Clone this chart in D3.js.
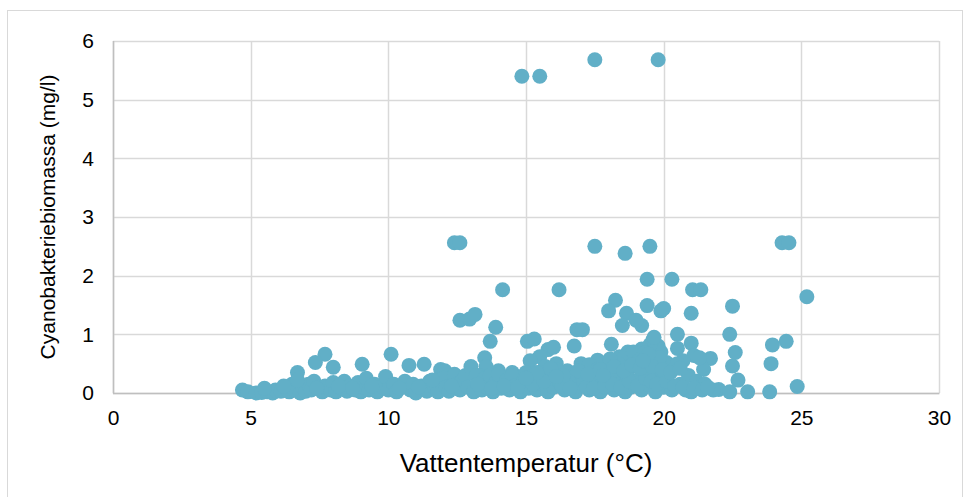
<!DOCTYPE html>
<html>
<head>
<meta charset="utf-8">
<script src="https://cdn.jsdelivr.net/npm/d3@7"></script>
<style>
  body { margin: 0; background: #fff; }
  svg { display: block; font-family: "Liberation Sans", Arial, sans-serif; }
</style>
</head>
<body>
<svg id="chart" width="971" height="497"></svg>
<script>
// Water temperature (°C)
const temperature = [
  // outliers / upper points
  14.85, 15.5, 17.5, 19.8,
  12.4, 12.6, 17.5, 18.6, 19.5, 24.3, 24.55,
  14.15, 16.2, 19.4, 20.3, 21.05, 21.35, 25.2,
  22.5, 18.25, 18.0, 18.65, 19.4, 19.9, 20.0, 21.0,
  12.6, 12.95, 13.15, 13.9, 18.5, 19.2, 19.0,
  16.85, 17.05, 20.5, 22.4, 15.05, 15.3, 15.8, 16.0,
  13.7, 16.75, 18.1, 17.0, 21.0, 22.6, 21.7, 22.5, 22.7, 23.9, 23.95, 24.45, 24.85, 23.85, 23.05, 22.0,
  20.5, 19.6, 19.7, 19.0, 17.6, 20.1, 21.1, 21.45, 19.35, 19.8, 19.9, 19.5, 19.2, 18.9, 18.8, 19.65,
  // lower band 0.3 - 0.7
  7.7, 7.35, 6.7, 8.0, 9.05, 10.1, 10.75, 11.3, 11.9, 13.5, 13.55, 12.05, 12.4,
  14.5, 14.0, 13.3, 15.5, 15.15, 15.7, 16.1, 16.5, 17.3, 17.9, 18.3, 18.4, 18.7, 20.7, 21.3,
  // dense band near zero
  4.7, 4.9, 5.2, 5.4, 5.6, 5.8, 5.9, 6.1, 6.3, 6.4, 6.5, 6.6, 6.8, 6.9, 7.0, 7.1, 7.2, 7.3, 7.5, 7.6,
  7.7, 7.9, 8.0, 8.1, 8.3, 8.4, 8.5, 8.6, 8.8, 8.9, 9.0, 9.1, 9.2, 9.3, 9.5, 9.6, 9.8, 9.9, 10.0, 10.2,
  10.3, 10.5, 10.6, 10.8, 10.9, 11.0, 11.2, 11.4, 11.5, 11.7, 11.8, 12.0, 12.1, 12.2, 12.4, 12.5, 12.6, 12.7, 12.8, 12.9,
  13.0, 13.1, 13.2, 13.3, 13.4, 13.5, 13.6, 13.7, 13.8, 13.9, 14.0, 14.1, 14.3, 14.4, 14.5, 14.6, 14.8, 14.9, 15.0, 15.1,
  15.2, 15.3, 15.4, 15.5, 15.6, 15.7, 15.8, 15.9, 16.0, 16.1, 16.2, 16.4, 16.5, 16.7, 16.8, 16.9, 17.0, 17.1, 17.3, 17.4,
  17.5, 17.6, 17.7, 17.8, 17.9, 18.0, 18.1, 18.2, 18.3, 18.4, 18.5, 18.6, 18.7, 18.8, 18.9, 19.0, 19.1, 19.2, 19.3, 19.4,
  19.5, 19.6, 19.7, 19.8, 19.9, 20.0, 20.2, 20.3, 20.5, 20.6, 20.8, 20.9, 21.0, 21.2, 21.3, 21.5, 21.8, 22.4,
  // additional fill in the band
  5.5, 6.2, 6.7, 7.4, 8.2, 8.7, 9.4, 10.4, 11.1, 11.6, 12.3, 13.25, 13.75, 14.2, 14.7, 15.25, 15.65, 16.3, 16.6, 17.2,
  17.45, 17.85, 18.15, 18.45, 18.75, 19.05, 19.35, 19.55, 19.75, 20.1, 20.4, 20.7, 21.1, 21.4, 21.6,
  18.6, 18.9, 19.1, 19.3, 19.5, 19.7, 19.85, 19.45, 18.35, 18.05,
  15.4, 15.9, 16.35, 16.9, 17.25, 17.7, 18.2, 18.55, 18.85, 19.15, 19.6, 19.95, 20.25, 20.6, 15.0, 16.1, 17.8, 19.25
];

// Cyanobacteria biomass (mg/l)
const biomass = [
  5.40, 5.40, 5.68, 5.68,
  2.56, 2.56, 2.50, 2.38, 2.50, 2.56, 2.56,
  1.76, 1.76, 1.94, 1.94, 1.76, 1.76, 1.64,
  1.48, 1.58, 1.40, 1.36, 1.49, 1.40, 1.44, 1.36,
  1.24, 1.26, 1.34, 1.12, 1.15, 1.15, 1.24,
  1.08, 1.08, 1.00, 1.00, 0.88, 0.92, 0.74, 0.78,
  0.88, 0.80, 0.83, 0.50, 0.85, 0.69, 0.59, 0.46, 0.22, 0.50, 0.82, 0.88, 0.11, 0.02, 0.02, 0.06,
  0.76, 0.90, 0.64, 0.57, 0.56, 0.52, 0.64, 0.40, 0.30, 0.80, 0.70, 0.82, 0.75, 0.62, 0.45, 0.95,
  0.66, 0.52, 0.35, 0.44, 0.49, 0.66, 0.47, 0.49, 0.40, 0.60, 0.45, 0.38, 0.32,
  0.35, 0.38, 0.30, 0.62, 0.55, 0.45, 0.50, 0.38, 0.48, 0.42, 0.55, 0.62, 0.70, 0.55, 0.60,
  0.05, 0.02, 0.00, 0.01, 0.02, 0.00, 0.05, 0.03, 0.08, 0.02, 0.15, 0.05, 0.00, 0.10, 0.03, 0.15, 0.05, 0.20, 0.10, 0.02,
  0.12, 0.05, 0.18, 0.02, 0.08, 0.20, 0.03, 0.12, 0.05, 0.18, 0.02, 0.10, 0.25, 0.05, 0.15, 0.02, 0.10, 0.28, 0.05, 0.15,
  0.02, 0.10, 0.20, 0.05, 0.15, 0.00, 0.12, 0.03, 0.20, 0.08, 0.02, 0.25, 0.10, 0.03, 0.30, 0.15, 0.05, 0.22, 0.30, 0.10,
  0.45, 0.02, 0.30, 0.15, 0.05, 0.25, 0.10, 0.30, 0.02, 0.18, 0.32, 0.08, 0.22, 0.05, 0.30, 0.12, 0.02, 0.20, 0.35, 0.08,
  0.28, 0.25, 0.05, 0.35, 0.15, 0.30, 0.02, 0.28, 0.10, 0.40, 0.20, 0.05, 0.15, 0.30, 0.02, 0.12, 0.35, 0.20, 0.05, 0.15,
  0.30, 0.40, 0.02, 0.20, 0.10, 0.35, 0.42, 0.05, 0.25, 0.15, 0.40, 0.02, 0.30, 0.10, 0.48, 0.20, 0.55, 0.05, 0.40, 0.15,
  0.50, 0.30, 0.02, 0.45, 0.20, 0.10, 0.35, 0.05, 0.50, 0.15, 0.05, 0.30, 0.02, 0.20, 0.10, 0.15, 0.05, 0.02,
  0.08, 0.12, 0.22, 0.08, 0.12, 0.08, 0.12, 0.08, 0.10, 0.22, 0.12, 0.15, 0.08, 0.12, 0.10, 0.15, 0.20, 0.12, 0.08, 0.10,
  0.08, 0.12, 0.15, 0.10, 0.20, 0.12, 0.25, 0.20, 0.15, 0.20, 0.12, 0.10, 0.08, 0.05, 0.10,
  0.62, 0.70, 0.55, 0.68, 0.58, 0.52, 0.60, 0.66, 0.50, 0.58,
  0.35, 0.42, 0.30, 0.38, 0.32, 0.40, 0.45, 0.38, 0.48, 0.42, 0.45, 0.40, 0.35, 0.42, 0.25, 0.28, 0.30, 0.55
];

const xTicks = [0, 5, 10, 15, 20, 25, 30];
const yTicks = [0, 1, 2, 3, 4, 5, 6];
const xTitle = "Vattentemperatur (°C)";
const yTitle = "Cyanobakteriebiomassa (mg/l)";

const svg = d3.select("#chart");
const plot = { left: 113, right: 939, top: 41, bottom: 393 };

// outer frame
svg.append("rect")
  .attr("x", 7.5).attr("y", 10.5)
  .attr("width", 955).attr("height", 500)
  .attr("fill", "#fff").attr("stroke", "#d9d9d9").attr("stroke-width", 1);

const x = d3.scaleLinear().domain([0, 30]).range([plot.left, plot.right]);
const y = d3.scaleLinear().domain([0, 6]).range([plot.bottom, plot.top]);

// gridlines
const grid = svg.append("g");
grid.selectAll("line.h").data(yTicks).join("line")
  .attr("x1", plot.left).attr("x2", plot.right)
  .attr("y1", d => Math.round(y(d)) + 0.5).attr("y2", d => Math.round(y(d)) + 0.5)
  .attr("stroke", "#d9d9d9").attr("stroke-width", 1.5);
grid.selectAll("line.v").data(xTicks).join("line")
  .attr("y1", plot.top).attr("y2", plot.bottom)
  .attr("x1", d => Math.round(x(d)) + 0.5).attr("x2", d => Math.round(x(d)) + 0.5)
  .attr("stroke", "#d9d9d9").attr("stroke-width", 1.5);

// axes lines
svg.append("line").attr("x1", plot.left + 0.5).attr("x2", plot.left + 0.5)
  .attr("y1", plot.top).attr("y2", plot.bottom + 0.5).attr("stroke", "#bfbfbf").attr("stroke-width", 1.5);
svg.append("line").attr("x1", plot.left).attr("x2", plot.right + 0.5)
  .attr("y1", plot.bottom + 0.5).attr("y2", plot.bottom + 0.5).attr("stroke", "#bfbfbf").attr("stroke-width", 1.5);

// axis tick labels via d3 axes
const xAxis = d3.axisBottom(x).tickValues(xTicks).tickSize(0).tickPadding(17).tickFormat(d3.format("d"));
const yAxis = d3.axisLeft(y).tickValues(yTicks).tickSize(0).tickPadding(19).tickFormat(d3.format("d"));
const gx = svg.append("g").attr("transform", `translate(0,${plot.bottom})`).call(xAxis);
const gy = svg.append("g").attr("transform", `translate(${plot.left},0)`).call(yAxis);
[gx, gy].forEach(g => {
  g.select(".domain").remove();
  g.selectAll("text").attr("font-size", 21).attr("fill", "#000")
    .attr("font-family", "'Liberation Sans', Arial, sans-serif");
});

// points
svg.append("g").selectAll("circle")
  .data(temperature.map((t, i) => [t, biomass[i]]))
  .join("circle")
  .attr("cx", d => x(d[0]))
  .attr("cy", d => y(d[1]))
  .attr("r", 7.5)
  .attr("fill", "#61afc7");

// titles
svg.append("text").attr("x", 526).attr("y", 472)
  .attr("text-anchor", "middle").attr("font-size", 26).attr("fill", "#000")
  .text(xTitle);
svg.append("text").attr("transform", "translate(55,217) rotate(-90)")
  .attr("text-anchor", "middle").attr("font-size", 21).attr("fill", "#000")
  .text(yTitle);
</script>
</body>
</html>
